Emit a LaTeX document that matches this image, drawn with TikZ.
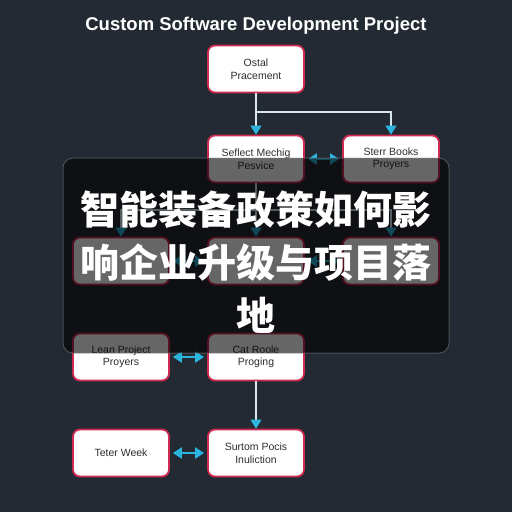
\documentclass[tikz,border=0pt]{standalone}
\usepackage{fontspec}
\setmainfont{Liberation Sans}
\newfontfamily\cjk{Noto Sans CJK SC}
\usetikzlibrary{arrows.meta}
\definecolor{bg}{HTML}{232A33}
\definecolor{crim}{HTML}{CF2A52}
\definecolor{cyanc}{HTML}{2BB5DE}
\definecolor{linec}{HTML}{D5E6EE}
\definecolor{txt}{HTML}{2E2E2E}
\tikzset{
  box/.style={draw=crim, line width=1.8pt, fill=white, rounded corners=7pt,
    minimum width=96pt, minimum height=47pt, inner sep=2pt, align=center,
    text=txt, font=\fontsize{10.5}{12.5}\selectfont},
  conn/.style={draw=linec, line width=1.1pt,
    -{Triangle[length=9pt,width=11pt,color=cyanc]}},
  dbl/.style={draw=cyanc, line width=2.2pt,
    {Triangle[length=9pt,width=11pt]}-{Triangle[length=9pt,width=11pt]}},
}
\begin{document}
\begin{tikzpicture}[x=1pt,y=-1pt]
\fill[bg] (0,0) rectangle (512,512);
\useasboundingbox (0,0) rectangle (512,512);
\node[text=white, font=\bfseries\fontsize{18.5}{21}\selectfont] (title) at (256,26) {Custom Software Development Project};
\node[box] (top) at (256,69) {Ostal\\Pracement};
\node[box] (A) at (256,159) {Seflect Mechig\\Pesvice};
\node[box] (B) at (391,159) {Sterr Books\\Proyers};
\node[box] (L3) at (121,261) {};
\node[box] (M3) at (256,261) {};
\node[box] (R3) at (391,261) {};
\node[box] (L4) at (121,357) {Lean Project\\Proyers};
\node[box] (M4) at (256,357) {Cat Roole\\Proging};
\node[box] (L5) at (121,453) {Teter Week};
\node[box] (M5) at (256,453) {Surtom Pocis\\Inuliction};
\coordinate (j1) at (256,112);
\coordinate (j2) at (256,210);
\draw[conn] (top.south) -- (A.north);
\draw[conn] (j1) -| (B.north);
\draw[conn] (A.south) -- (M3.north);
\draw[conn] (j2) -| (L3.north);
\draw[conn] (j2) -| (R3.north);
\draw[conn] (M4.south) -- (M5.north);
\draw[dbl] ([xshift=3pt]A.east) -- ([xshift=-3pt]B.west);
\draw[dbl] ([xshift=3pt]L3.east) -- ([xshift=-3pt]M3.west);
\draw[dbl] ([xshift=3pt]M3.east) -- ([xshift=-3pt]R3.west);
\draw[dbl] ([xshift=3pt]L4.east) -- ([xshift=-3pt]M4.west);
\draw[dbl] ([xshift=3pt]L5.east) -- ([xshift=-3pt]M5.west);
\fill[black, opacity=0.6, rounded corners=10pt] (63,158) rectangle (449,353);
\draw[gray, opacity=0.5, line width=1pt, rounded corners=10pt] (63,158) rectangle (449,353);
\node[text=white, align=center, text width=390pt, font=\cjk\bfseries\fontsize{39}{53}\selectfont] (cap) at (256,262) {智能装备政策如何影\\响企业升级与项目落\\地};
\end{tikzpicture}
\end{document}
